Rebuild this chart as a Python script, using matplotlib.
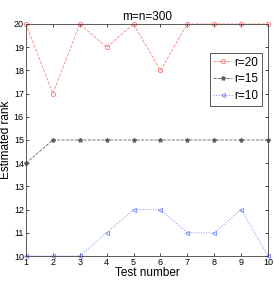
import matplotlib
matplotlib.use('Agg')
import matplotlib.pyplot as plt
import numpy as np

tests = [1, 2, 3, 4, 5, 6, 7, 8, 9, 10]
rank_r20 = [20, 17, 20, 19, 20, 18, 20, 20, 20, 20]
rank_r15 = [14, 15, 15, 15, 15, 15, 15, 15, 15, 15]
rank_r10 = [10, 10, 10, 11, 12, 12, 11, 11, 12, 10]

plt.rcParams['font.family'] = ['Liberation Sans', 'DejaVu Sans']

fig = plt.figure(figsize=(2.74, 2.84), dpi=100)
ax = fig.add_axes([26 / 274, 1 - 256 / 284, 242 / 274, 232 / 284])

ax.plot(tests, rank_r20, '--', color='#ff8080', marker='o', markersize=3,
        markerfacecolor='none', markeredgewidth=0.7, linewidth=0.6,
        label='r=20', clip_on=False)
ax.plot(tests, rank_r15, '--', color='#606060', marker='*', markersize=3,
        linewidth=0.6, label='r=15', clip_on=False)
ax.plot(tests, rank_r10, ':', color='#8090ff', marker='<', markersize=3,
        markerfacecolor='none', markeredgewidth=0.7, linewidth=0.7,
        label='r=10', clip_on=False)

ax.set_xlim(1, 10)
ax.set_ylim(10, 20)
ax.set_xticks(tests)
ax.set_yticks(range(10, 21))
ax.tick_params(labelsize=6.5, direction='in', length=2, width=0.5, pad=1.5,
               top=True, right=True)
for s in ax.spines.values():
    s.set_linewidth(0.6)
    s.set_color('#404040')

ax.set_title('m=n=300', fontsize=8.5, pad=3)
ax.set_xlabel('Test number', fontsize=8.5, labelpad=0)
ax.set_ylabel('Estimated rank', fontsize=8.5, labelpad=1)

leg = ax.legend(loc='upper right', bbox_to_anchor=(0.975, 0.875), fontsize=8.5,
                handlelength=1.6, handletextpad=0.2, borderpad=0.3,
                labelspacing=0.4, fancybox=False, framealpha=1, borderaxespad=0)
leg.get_frame().set_edgecolor('#404040')
leg.get_frame().set_linewidth(0.6)

fig.savefig('out.png', dpi=100)
